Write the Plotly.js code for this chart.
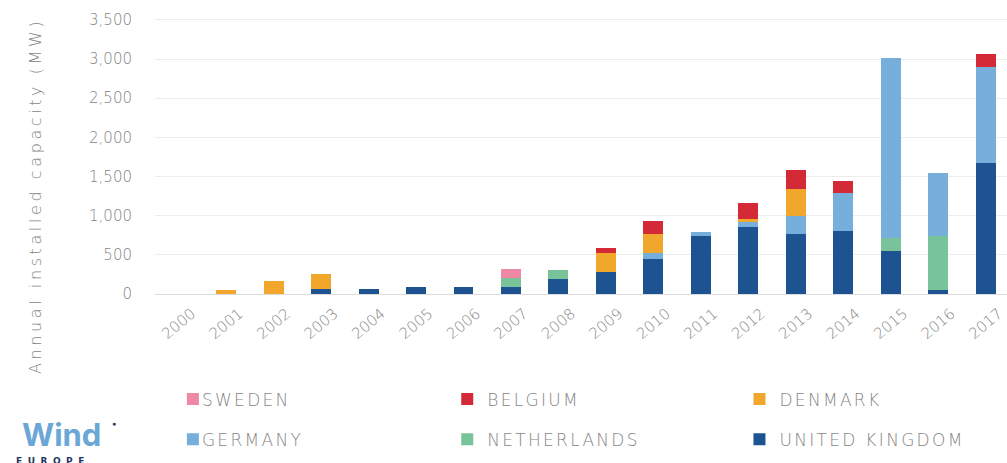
<!DOCTYPE html>
<html>
<head>
<meta charset="utf-8">
<script src="https://cdn.plot.ly/plotly-3.0.1.min.js"></script>
<style>
html,body{margin:0;padding:0;background:#fff;}
#chart{width:1007px;height:463px;}
#chart g.xtick{transform:translate(13px,-3px);}
</style>
</head>
<body>
<div id="chart"></div>
<script>
var years = ['2000','2001','2002','2003','2004','2005','2006','2007','2008','2009','2010','2011','2012','2013','2014','2015','2016','2017'];
var unitedKingdom = [0, 0, 0, 60, 70, 90, 90, 95, 190, 285, 445, 740, 850, 760, 800, 550, 50, 1670];
var netherlands   = [0, 0, 0, 0, 0, 0, 0, 110, 120, 0, 0, 0, 0, 0, 0, 160, 690, 0];
var germany       = [0, 0, 0, 0, 0, 0, 0, 0, 0, 0, 80, 50, 65, 240, 490, 2300, 810, 1230];
var denmark       = [0, 50, 170, 195, 0, 0, 0, 0, 0, 245, 235, 0, 40, 345, 0, 0, 0, 0];
var belgium       = [0, 0, 0, 0, 0, 0, 0, 0, 0, 55, 175, 0, 205, 235, 150, 0, 0, 170];
var sweden        = [0, 0, 0, 0, 0, 0, 0, 115, 0, 0, 0, 0, 0, 0, 0, 0, 0, 0];
var yTicks = [0, 500, 1000, 1500, 2000, 2500, 3000, 3500];
var yTickLabels = ['0', '500', '1,000', '1,500', '2,000', '2,500', '3,000', '3,500'];

// stacking order bottom -> top; legend columns: [SWEDEN/GERMANY] [BELGIUM/NETHERLANDS] [DENMARK/UNITED KINGDOM]
var series = [
  {name: 'UNITED KINGDOM', y: unitedKingdom, color: '#1d5391', rank: 2, legend: 'legend3'},
  {name: 'NETHERLANDS', y: netherlands, color: '#79c39b', rank: 2, legend: 'legend2'},
  {name: 'GERMANY', y: germany, color: '#76aedc', rank: 2, legend: 'legend'},
  {name: 'DENMARK', y: denmark, color: '#f0a72b', rank: 1, legend: 'legend3'},
  {name: 'BELGIUM', y: belgium, color: '#d42a37', rank: 1, legend: 'legend2'},
  {name: 'SWEDEN', y: sweden, color: '#ee88a5', rank: 1, legend: 'legend'}
];

function spaced(t, px) { return '<span style="letter-spacing:' + px + 'px">' + t + '</span>'; }

var traces = series.map(function(s){
  return {type: 'bar', name: spaced(s.name, 2.3), x: years, y: s.y, legendrank: s.rank, legend: s.legend,
    legendgroup: s.name,
    marker: {color: s.color, line: {width: 0}}, hoverinfo: 'x+y+name'};
});

var fontFam = '"DejaVu Sans", sans-serif';
var grey = '#858585';
var legendBase = {orientation: 'v', xanchor: 'left', yanchor: 'top', y: -0.315,
    itemwidth: 30, tracegroupgap: 15,
    font: {family: fontFam, size: 17, color: grey, weight: 200}, traceorder: 'grouped',
    bgcolor: 'rgba(0,0,0,0)', borderwidth: 0};

var layout = {
  width: 1007, height: 463,
  margin: {l: 155, r: 0, t: 16, b: 169, autoexpand: false},
  paper_bgcolor: '#ffffff', plot_bgcolor: '#ffffff',
  barmode: 'stack', bargap: 0.58,
  font: {family: fontFam, color: grey, size: 15, weight: 200},
  showlegend: true,
  legend: Object.assign({}, legendBase, {x: 0.021}),
  legend2: Object.assign({}, legendBase, {x: 0.343}),
  legend3: Object.assign({}, legendBase, {x: 0.686}),
  xaxis: {type: 'category', range: [-0.5, 17.45], tickangle: -40,
    tickfont: {family: fontFam, size: 15, color: grey, weight: 200}, showgrid: false,
    showline: false, ticks: '', zeroline: false, ticklabelstandoff: 10},
  yaxis: {range: [0, 3550], tickvals: yTicks, ticktext: yTickLabels,
    tickfont: {family: fontFam, size: 15, color: grey, weight: 200}, gridcolor: '#ececec', gridwidth: 1,
    zeroline: true, zerolinecolor: '#dcdcdc', zerolinewidth: 1, ticks: '', ticklen: 0,
    ticklabelstandoff: 22},
  annotations: [
    {xref: 'paper', yref: 'paper', x: -0.1408, y: 0.3525, xanchor: 'center', yanchor: 'middle',
     textangle: -90, showarrow: false,
     text: spaced('Annual installed capacity (MW)', 3.6),
     font: {family: fontFam, size: 16, color: grey, weight: 200}},
    {xref: 'paper', yref: 'paper', x: -0.158, y: -0.43, xanchor: 'left', yanchor: 'top',
     text: '<b>Wind</b>', showarrow: false, font: {family: 'Inter, Lato, sans-serif', size: 31, color: '#6aa6d6'}},
    {xref: 'paper', yref: 'paper', x: -0.053, y: -0.445, xanchor: 'left', yanchor: 'top',
     text: '●', showarrow: false, font: {family: 'DejaVu Sans', size: 7, color: '#2a3f66'}},
    {xref: 'paper', yref: 'paper', x: -0.1655, y: -0.5755, xanchor: 'left', yanchor: 'top',
     text: '<b>' + spaced('EUROPE', 5.5) + '</b>', showarrow: false, font: {family: 'DejaVu Sans', size: 9, color: '#1f3560'}}
  ]
};

Plotly.newPlot('chart', traces, layout, {displayModeBar: false, staticPlot: true}).then(function(gd){
  // tighten the gap between legend swatch and label, as in the reference
  var items = gd.querySelectorAll('g.traces text.legendtext');
  for (var i = 0; i < items.length; i++) { items[i].style.transform = 'translateX(-11px)'; }
});
</script>
</body>
</html>
